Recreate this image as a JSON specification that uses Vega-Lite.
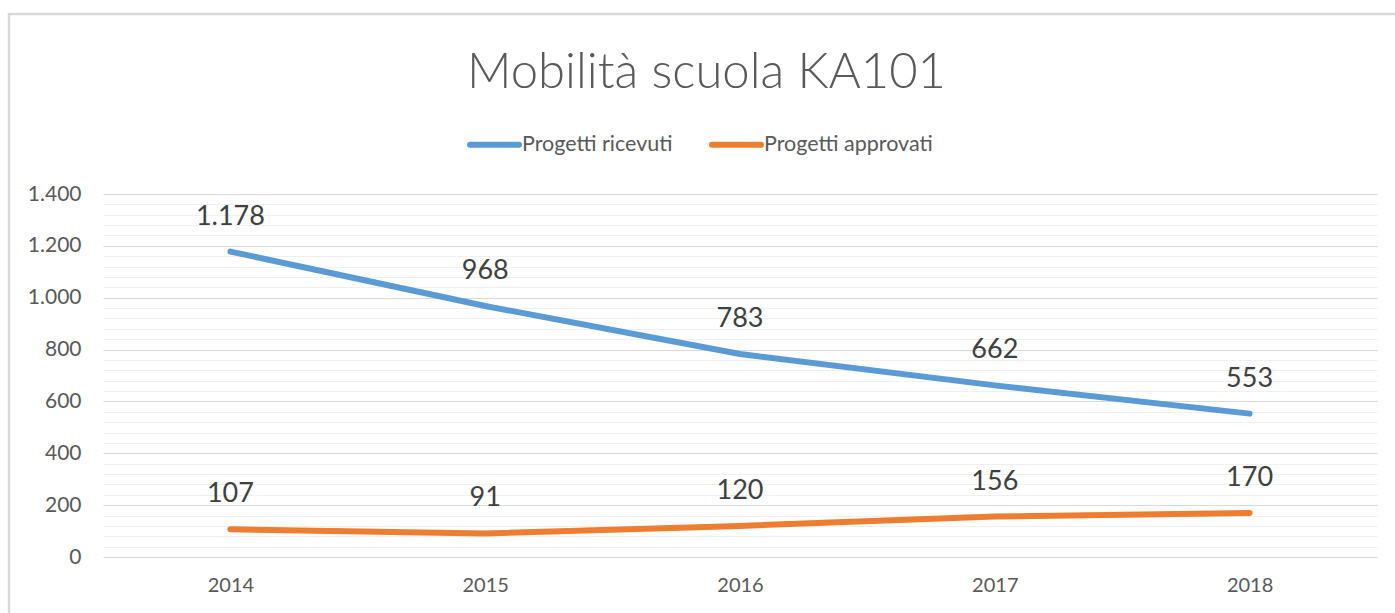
{
  "$schema": "https://vega.github.io/schema/vega-lite/v6.json",
  "autosize": {"type": "none"},
  "padding": {"left": 9, "top": 14, "right": 0, "bottom": 0},
  "width": 1395,
  "height": 610,
  "background": "white",
  "config": {
    "locale": {"number": {"decimal": ",", "thousands": ".", "grouping": [3], "currency": ["€", ""]}},
    "view": {"stroke": "#d9d9d9", "strokeWidth": 2.5},
    "font": "Lato"
  },
  "title": {
    "text": "Mobilità scuola KA101",
    "font": "Lato",
    "fontWeight": 300,
    "fontSize": 49,
    "color": "#595959",
    "anchor": "middle",
    "frame": "group",
    "offset": 0,
    "baseline": "alphabetic",
    "dy": 123
  },
  "data": {
    "values": [
      {"anno": "2014", "serie": "Progetti ricevuti", "valore": 1178},
      {"anno": "2015", "serie": "Progetti ricevuti", "valore": 968},
      {"anno": "2016", "serie": "Progetti ricevuti", "valore": 783},
      {"anno": "2017", "serie": "Progetti ricevuti", "valore": 662},
      {"anno": "2018", "serie": "Progetti ricevuti", "valore": 553},
      {"anno": "2014", "serie": "Progetti approvati", "valore": 107},
      {"anno": "2015", "serie": "Progetti approvati", "valore": 91},
      {"anno": "2016", "serie": "Progetti approvati", "valore": 120},
      {"anno": "2017", "serie": "Progetti approvati", "valore": 156},
      {"anno": "2018", "serie": "Progetti approvati", "valore": 170}
    ]
  },
  "encoding": {
    "x": {
      "field": "anno",
      "type": "ordinal",
      "scale": {"type": "point", "range": [94, 1368], "padding": 0.5},
      "axis": {
        "title": null,
        "labelAngle": 0,
        "domain": false,
        "ticks": false,
        "tickSize": 0,
        "grid": false,
        "offset": -67,
        "labelPadding": 18,
        "labelFont": "Lato",
        "labelFontSize": 20,
        "labelColor": "#595959"
      }
    },
    "y": {
      "field": "valore",
      "type": "quantitative",
      "scale": {"domain": [0, 1400], "range": [543, 180], "nice": false, "zero": true},
      "axis": {
        "title": null,
        "values": [0, 40, 80, 120, 160, 200, 240, 280, 320, 360, 400, 440, 480, 520, 560, 600, 640, 680, 720, 760, 800, 840, 880, 920, 960, 1000, 1040, 1080, 1120, 1160, 1200, 1240, 1280, 1320, 1360, 1400],
        "format": ",.0f",
        "labelExpr": "datum.value % 200 === 0 ? datum.label : ''",
        "domain": false,
        "ticks": false,
        "tickSize": 0,
        "offset": -94,
        "labelPadding": 22,
        "labelFont": "Lato",
        "labelFontSize": 21,
        "labelColor": "#595959",
        "grid": true,
        "gridWidth": 1,
        "gridColor": {"condition": {"test": "datum.value % 200 === 0", "value": "#d9d9d9"}, "value": "#f0f0f0"}
      }
    }
  },
  "layer": [
    {
      "mark": {"type": "line", "strokeWidth": 6, "strokeCap": "round", "strokeJoin": "round"},
      "encoding": {
        "color": {
          "field": "serie",
          "type": "nominal",
          "scale": {"domain": ["Progetti ricevuti", "Progetti approvati"], "range": ["#5B9BD5", "#ED7D31"]},
          "legend": {
            "title": null,
            "orient": "none",
            "direction": "horizontal",
            "legendX": 458,
            "legendY": 103,
            "padding": 0,
            "symbolType": "stroke",
            "symbolSize": 2401,
            "symbolStrokeWidth": 6,
            "labelOffset": 0,
            "columnPadding": 27,
            "labelLimit": 400,
            "labelFont": "Lato",
            "labelFontSize": 21.5,
            "labelColor": "#595959",
            "encode": {"symbols": {"update": {"strokeCap": {"value": "round"}}}}
          }
        }
      }
    },
    {
      "mark": {"type": "text", "dy": -35, "fontSize": 27, "font": "Lato", "color": "#404040", "baseline": "middle"},
      "encoding": {
        "text": {"field": "valore", "type": "quantitative", "format": ",.0f"}
      }
    }
  ]
}
